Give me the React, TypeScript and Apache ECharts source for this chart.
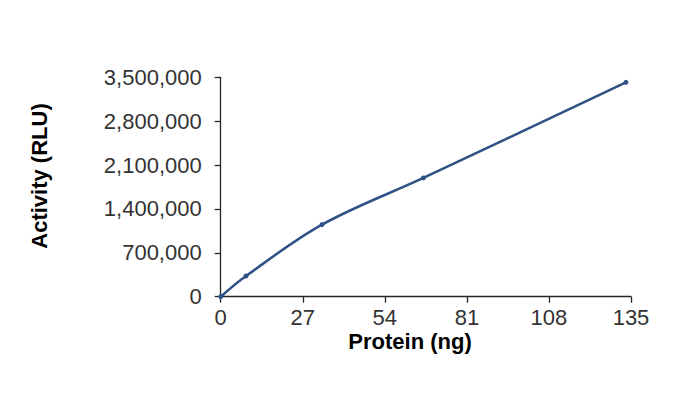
import React, { useEffect, useRef } from "react";
import * as echarts from "echarts";

const proteinNg = [0, 8.33, 33.33, 66.67, 133.33];
const activityRLU = [0, 330000, 1150000, 1895000, 3420000];
const xTicks = [0, 27, 54, 81, 108, 135];
const yTicks = [0, 700000, 1400000, 2100000, 2800000, 3500000];
const xTitle = "Protein (ng)";
const yTitle = "Activity (RLU)";

export default function App() {
  const ref = useRef<HTMLDivElement>(null);
  useEffect(() => {
    if (!ref.current) return;
    const chart = echarts.init(ref.current, null, { renderer: "svg" });
    const font = "'Liberation Sans', Arial, sans-serif";
    chart.setOption({
      animation: false,
      backgroundColor: "#ffffff",
      grid: { left: 220.7, right: 67, top: 77.3, bottom: 98.3 },
      xAxis: {
        type: "value",
        min: xTicks[0],
        max: xTicks[xTicks.length - 1],
        interval: xTicks[1] - xTicks[0],
        axisLine: { lineStyle: { color: "#262626", width: 1.3 } },
        axisTick: { show: true, length: 6, lineStyle: { color: "#262626", width: 1.3 } },
        axisLabel: { color: "#333333", fontSize: 22, fontFamily: font, margin: 10 },
        splitLine: { show: false },
      },
      yAxis: {
        type: "value",
        min: yTicks[0],
        max: yTicks[yTicks.length - 1],
        interval: yTicks[1] - yTicks[0],
        axisLine: { show: true, lineStyle: { color: "#262626", width: 1.3 } },
        axisTick: { show: true, length: 6, lineStyle: { color: "#262626", width: 1.3 } },
        axisLabel: {
          color: "#333333",
          fontSize: 22,
          fontFamily: font,
          margin: 19,
          formatter: (v: number) => v.toLocaleString("en-US"),
        },
        splitLine: { show: false },
      },
      graphic: [
        {
          type: "text",
          x: 410,
          y: 341.5,
          style: {
            text: xTitle,
            font: `bold 22px ${font}`,
            fill: "#000000",
            textAlign: "center",
            textVerticalAlign: "middle",
          },
        },
        {
          type: "text",
          x: 39,
          y: 176,
          rotation: Math.PI / 2,
          style: {
            text: yTitle,
            font: `bold 22px ${font}`,
            fill: "#000000",
            textAlign: "center",
            textVerticalAlign: "middle",
          },
        },
      ],
      series: [
        {
          type: "line",
          data: proteinNg.map((x, i) => [x, activityRLU[i]]),
          smooth: 0.35,
          symbol: "circle",
          symbolSize: 5,
          lineStyle: { color: "#2E5286", width: 2.5 },
          itemStyle: { color: "#2E5286" },
        },
      ],
    });
    return () => chart.dispose();
  }, []);
  return (
    <div
      ref={ref}
      style={{ position: "fixed", left: 0, top: 0, width: 698, height: 395 }}
    />
  );
}
